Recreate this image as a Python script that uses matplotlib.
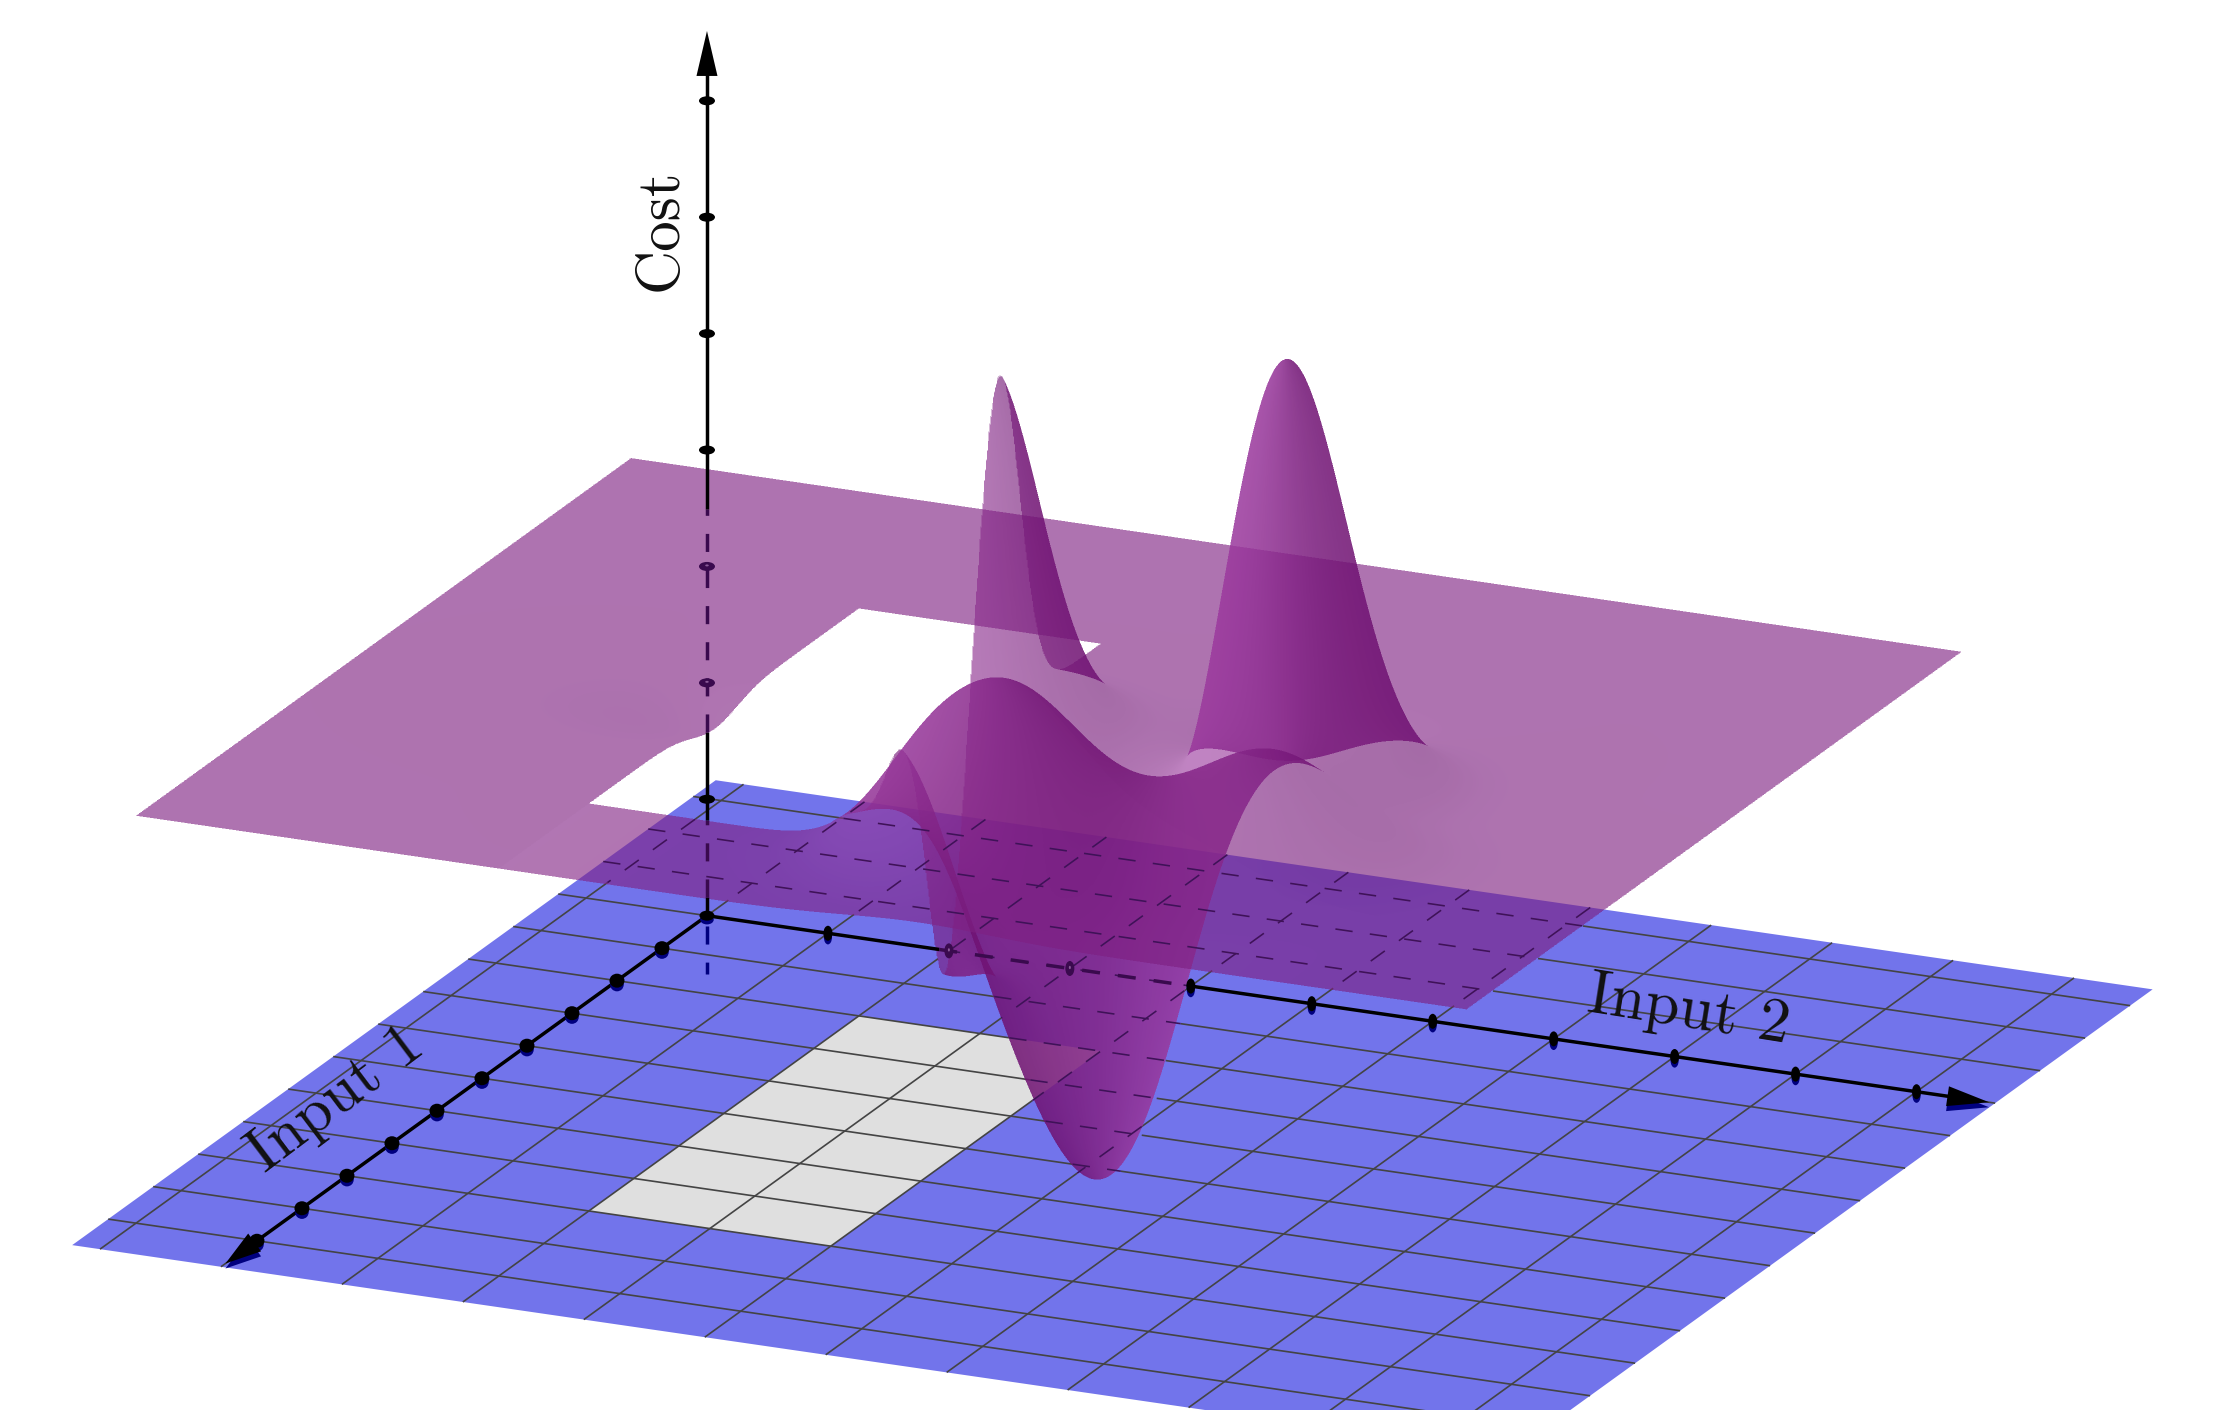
import numpy as np
import matplotlib
matplotlib.use("Agg")
import matplotlib.pyplot as plt
from matplotlib.patches import Ellipse, Polygon

plt.rcParams['lines.scale_dashes'] = False
plt.rcParams['axes.unicode_minus'] = False

# ---- data (world units: input 1, input 2, cost) ----
input1_ticks = [1, 2, 3, 4, 5, 6, 7, 8, 9, 10]
input2_ticks = [1, 2, 3, 4, 5, 6, 7, 8, 9, 10]
cost_ticks = [1, 2, 3, 4, 5, 6, 7]
floor_input1 = [-3.5, 10.8]
floor_input2 = [-1.23, 10.65]
floor_grid1 = list(range(-3, 11))
floor_grid2 = list(range(-1, 11))
hole_input1 = [2, 8]
hole_input2 = [2, 4]
sheet_input1 = [-1, 10]
sheet_input2 = [-1, 10]
sheet_level = 3.5
# bumps of the cost surface
bump_input1 = [5.0, 4.25, 5.45, 6.2, 7.8, 6.4, 5.2, 7.4, 3.7, 7.6, 6.8]
bump_input2 = [6.595, 3.9, 3.9, 5.55, 5.45, 4.0, 1.8, 6.4, 6.2, 4.7, 7.1]
bump_height = [4.08, 3.05, -1.7, -3.6, 1.75, 0.8, -0.15, 0.5, -0.4, 0.5, 1.05]
bump_width1 = [0.6, 0.45, 0.35, 0.8, 0.85, 0.4, 0.5, 0.7, 0.5, 0.6, 0.7]
bump_width2 = [0.48, 0.4, 0.5, 0.78, 0.6, 0.35, 0.5, 0.6, 0.45, 0.4, 0.6]

# ---- projection (orthographic, image pixels) ----
S = 2226 / 1568
O = np.array([498.0, 645.0]) * S
E1 = np.array([-31.7, 22.9]) * S
E2 = np.array([85.2, 12.4]) * S
E3 = np.array([0.0, -82.0]) * S
VIEW = np.array([1.0, 0.372, 0.335])
W, H = 2226, 1410


def proj(a, b, z=0.0):
    a, b, z = np.asarray(a, float), np.asarray(b, float), np.asarray(z, float)
    return (O[0] + a * E1[0] + b * E2[0] + z * E3[0],
            O[1] + a * E1[1] + b * E2[1] + z * E3[1])


def surf(a, b):
    a, b = np.asarray(a, float), np.asarray(b, float)
    z = np.full(np.broadcast(a, b).shape, float(sheet_level))
    for a0, b0, h, sa, sb in zip(bump_input1, bump_input2, bump_height, bump_width1, bump_width2):
        z = z + h * np.exp(-((a - a0) / sa) ** 2 / 2 - ((b - b0) / sb) ** 2 / 2)
    return z


def in_sheet(a, b):
    ok = (a >= sheet_input1[0]) & (a <= sheet_input1[1]) & (b >= sheet_input2[0]) & (b <= sheet_input2[1])
    hole = (a > hole_input1[0]) & (a < hole_input1[1]) & (b > hole_input2[0]) & (b < hole_input2[1])
    return ok & ~hole


T = np.arange(0, 34, 0.04)


def covered(a, b, z):
    a, b, z = [np.atleast_1d(np.asarray(v, float)) for v in (a, b, z)]
    a, b, z = np.broadcast_arrays(a, b, z)
    out = np.zeros(a.shape, bool)
    for i in range(a.size):
        aa = a[i] + T * VIEW[0]
        bb = b[i] + T * VIEW[1]
        zz = z[i] + T * VIEW[2]
        d = surf(aa, bb) - zz
        cross = (d[:-1] * d[1:] <= 0) & in_sheet(aa[:-1], bb[:-1]) & in_sheet(aa[1:], bb[1:])
        out[i] = cross[1:].any()
    return out


def runs(mask):
    idx = np.flatnonzero(np.diff(mask.astype(int))) + 1
    edges = np.r_[0, idx, mask.size]
    return [(edges[i], edges[i + 1], mask[edges[i]]) for i in range(len(edges) - 1)]


def render_surface():
    """Translucent height field, composited column by column (2x supersampled)."""
    alpha = 0.62
    base = np.array([125, 30, 128]) / 255.0
    tint = np.array([0.5, 0.45, 0.5])
    out = np.zeros((H, W, 4), np.float32)
    da = 0.02
    A = np.arange(sheet_input1[0], sheet_input1[1] + da / 2, da)
    Am = (A[:-1] + A[1:]) / 2
    eps = 1e-3
    for col2 in range(2 * W):
        xs = (col2 + 0.5) / 2
        b = (xs - O[0] - A * E1[0]) / E2[0]
        bm = (b[:-1] + b[1:]) / 2
        keep = in_sheet(Am, bm)
        if not keep.any():
            continue
        z = surf(A, b)
        y = (O[1] + A * E1[1] + b * E2[1] + z * E3[1]) * 2
        y0 = np.minimum(y[:-1], y[1:])[keep]
        y1 = np.maximum(y[:-1], y[1:])[keep]
        i0 = np.ceil(y0 - 0.5).astype(int)
        i1 = np.ceil(y1 - 0.5).astype(int)
        n = i1 - i0
        am, bb = Am[keep], bm[keep]
        dzda = (surf(am + eps, bb) - surf(am - eps, bb)) / (2 * eps)
        dzdb = (surf(am, bb + eps) - surf(am, bb - eps)) / (2 * eps)
        nrm = np.sqrt(1 + dzda ** 2 + dzdb ** 2)
        shade = 0.16 * dzdb / nrm - 0.06 * dzda / nrm + 0.08 * (1 - 1 / nrm)
        shade = shade + 0.04 * ((am > 8) & (bb > 2)) * np.exp(-(bb - 2) / 4)
        total = n.sum()
        if total == 0:
            continue
        starts = np.r_[0, np.cumsum(n)[:-1]]
        pix = np.repeat(i0, n) + (np.arange(total) - np.repeat(starts, n))
        seg = np.repeat(np.arange(n.size), n)
        good = (pix >= 0) & (pix < 2 * H)
        pix, seg = pix[good], seg[good]
        if pix.size == 0:
            continue
        order = np.argsort(pix, kind='stable')
        pix, seg = pix[order], seg[order]
        size = np.bincount(pix, minlength=2 * H)
        first = np.r_[0, np.cumsum(size)[:-1]]
        rank = np.arange(pix.size) - first[pix]
        front = size[pix] - 1 - rank
        w = alpha * (1 - alpha) ** front
        col = np.zeros((2 * H, 4))
        for c in range(3):
            col[:, c] = np.bincount(pix, weights=w * np.clip(base[c] + tint[c] * shade[seg], 0, 1), minlength=2 * H)
        col[:, 3] = 1 - (1 - alpha) ** size
        out[:, col2 // 2] += (0.25 * (col[0::2] + col[1::2])).astype(np.float32)
    a = out[..., 3:4]
    rgb = np.where(a > 1e-4, out[..., :3] / np.maximum(a, 1e-4), 0)
    return np.dstack([np.clip(rgb, 0, 1), np.clip(a, 0, 1)])


fig = plt.figure(figsize=(22.26, 14.10), dpi=100)
ax = fig.add_axes([0, 0, 1, 1])
ax.axis('off')

FLOOR = '#7274EB'
GRAY = '#DFDFDF'
GRID = '#444444'
HID = '#3F1258'
HIDAX = '#3A0A4E'
NAVY = '#00007F'

# floor
xs, ys = proj([floor_input1[0], floor_input1[1], floor_input1[1], floor_input1[0]],
              [floor_input2[0], floor_input2[0], floor_input2[1], floor_input2[1]])
ax.add_patch(Polygon(np.c_[xs, ys], closed=True, fc=FLOOR, ec='none', zorder=1))
xs, ys = proj([hole_input1[0], hole_input1[1], hole_input1[1], hole_input1[0]],
              [hole_input2[0], hole_input2[0], hole_input2[1], hole_input2[1]])
ax.add_patch(Polygon(np.c_[xs, ys], closed=True, fc=GRAY, ec='none', zorder=1.1))


def draw_line3(a, b, z, lw_vis, col_vis, lw_hid, col_hid, dash, zv, zh):
    m = covered(a, b, z)
    X, Y = proj(a, b, z)
    for i0, i1, hid in runs(m):
        i1p = min(i1 + 1, len(X))
        if hid:
            ax.plot(X[i0:i1p], Y[i0:i1p], color=col_hid, lw=lw_hid,
                    ls=(0, dash), zorder=zh, solid_capstyle='butt', dash_capstyle='butt')
        else:
            ax.plot(X[i0:i1p], Y[i0:i1p], color=col_vis, lw=lw_vis, zorder=zv, solid_capstyle='butt')


GD = (12.5, 12.5)
for g in floor_grid1:
    b = np.linspace(floor_input2[0], floor_input2[1], 240)
    draw_line3(np.full_like(b, g), b, np.zeros_like(b), 1.2, GRID, 1.15, HID, GD, 2, 6)
for g in floor_grid2:
    a = np.linspace(floor_input1[0], floor_input1[1], 280)
    draw_line3(a, np.full_like(a, g), np.zeros_like(a), 1.2, GRID, 1.15, HID, GD, 2, 6)

# surface
ax.imshow(render_surface(), extent=(0, W, H, 0), interpolation='nearest', zorder=4, aspect='auto')
ax.set_xlim(0, W)
ax.set_ylim(H, 0)

# axes
AD = (13, 13)
a = np.linspace(0, 10.2, 500)
draw_line3(a, np.zeros_like(a), np.zeros_like(a), 2.5, 'black', 2.5, HIDAX, AD, 7, 7)
b = np.linspace(0, 10.3, 500)
draw_line3(np.zeros_like(b), b, np.zeros_like(b), 2.5, 'black', 2.5, HIDAX, AD, 7, 7)
z = np.linspace(0, 7.3, 500)
draw_line3(np.zeros_like(z), np.zeros_like(z), z, 2.5, 'black', 2.5, HIDAX, AD, 7, 7)
x0, y0 = proj(0, 0, 0)
x1, y1 = proj(0, 0, -0.5)
ax.plot([x0, x1], [y0 + 10, y1], color=NAVY, lw=2.5, ls=(0, (13, 13)), zorder=2.5, dash_capstyle='butt')


def tick(a, b, z, w, h):
    x, y = proj(a, b, z)
    hid = covered(a, b, z)[0]
    if hid:
        ax.add_patch(Ellipse((x, y), w, h, fc=HIDAX, ec='none', zorder=8))
        ax.add_patch(Ellipse((x, y - 1), w * 0.22, h * 0.22, fc='#8A5A98', ec='none', zorder=8.1))
    else:
        if z == 0:
            ax.add_patch(Ellipse((x, y + 4), w * 0.9, h * 0.95, fc=NAVY, ec='none', zorder=7.5))
        ax.add_patch(Ellipse((x, y), w, h, fc='black', ec='none', zorder=8))


for t in input1_ticks:
    tick(t, 0, 0, 15, 14)
for t in input2_ticks:
    tick(0, t, 0, 9, 15)
for t in cost_ticks:
    tick(0, 0, t, 16, 9)
tick(0, 0, 0, 15, 10)


def head(tip_world, dir_world, length, width, shadow):
    tx, ty = proj(*tip_world)
    fx, fy = proj(tip_world[0] + dir_world[0], tip_world[1] + dir_world[1], tip_world[2] + dir_world[2])
    d = np.array([fx - tx, fy - ty])
    d = d / np.hypot(*d)
    n = np.array([-d[1], d[0]])
    tip = np.array([tx, ty])
    base_c = tip + d * length
    pts = np.array([tip, base_c + n * width / 2, base_c - n * width / 2])
    if shadow:
        ax.add_patch(Polygon(pts + np.array([0, 5]), closed=True, fc=NAVY, ec='none', zorder=7.5))
    ax.add_patch(Polygon(pts, closed=True, fc='black', ec='none', zorder=8.5))


head((10.7, 0, 0), (-1, 0, 0), 36, 22, True)
head((0, 10.6, 0), (0, -1, 0), 42, 20, True)
head((0, 0, 7.6), (0, 0, -1), 45, 21, False)

# labels
ax.text(661, 230, 'Cost', family='cmr10', fontsize=44, rotation=90, ha='center', va='center', color='#111111', zorder=9)
ax.text(336, 1100, 'Input 1', family='cmr10', fontsize=45, rotation=37, ha='center', va='center',
        color='#111111', rotation_mode='anchor', zorder=9)
ax.text(1689, 1012, 'Input 2', family='cmr10', fontsize=45, rotation=-9, ha='center', va='center',
        color='#111111', rotation_mode='anchor', zorder=9)

fig.savefig('out.png', dpi=100, facecolor='white')
